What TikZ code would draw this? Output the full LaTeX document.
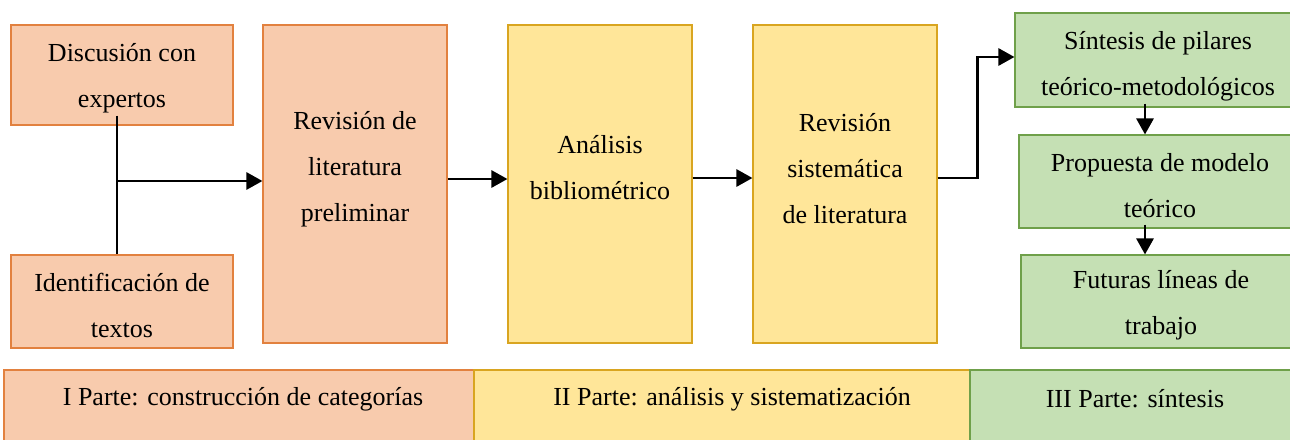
\documentclass[tikz,border=0pt]{standalone}
\usepackage{fontspec}
\setmainfont{Liberation Serif}
\usetikzlibrary{arrows.meta,fit}
\definecolor{ofill}{HTML}{F8CBAD}
\definecolor{oline}{HTML}{E2813F}
\definecolor{yfill}{HTML}{FFE699}
\definecolor{yline}{HTML}{D9A520}
\definecolor{gfill}{HTML}{C5E0B4}
\definecolor{gline}{HTML}{6FA04A}
\begin{document}
\begin{tikzpicture}[x=1pt,y=-1pt,
  box/.style={inner sep=0pt, line width=1.1pt},
  obox/.style={box, draw=oline, fill=ofill},
  ybox/.style={box, draw=yline, fill=yfill},
  gbox/.style={box, draw=gline, fill=gfill},
  txt/.style={font=\fontsize{26}{46}\selectfont, align=center, inner sep=0pt},
  con/.style={line width=2.8pt},
  arr/.style={con, -{Triangle[length=16pt,width=17pt]}}]
\clip (0,0) rectangle (1290,439);
% boxes
\node[obox, fit={(11,25)(233,125)}] (d) {};
\node[obox, fit={(11,255)(233,348)}] (i) {};
\node[obox, fit={(263,25)(447,343)}] (r1) {};
\node[ybox, fit={(508,25)(692,343)}] (a) {};
\node[ybox, fit={(753,25)(937,343)}] (rs) {};
\node[gbox, fit={(1015,13)(1300,107)}] (s) {};
\node[gbox, fit={(1019,135)(1300,228)}] (p) {};
\node[gbox, fit={(1021,255)(1300,348)}] (f) {};
\node[obox, fit={(4,370)(474,450)}] (b1) {};
\node[ybox, fit={(474,370)(970,450)}] (b2) {};
\node[gbox, fit={(970,370)(1300,450)}] (b3) {};
% texts
\node[txt] (td) at (122,78) {Discusión con\\expertos};
\node[txt] (ti) at (122,305) {Identificación de\\textos};
\node[txt] (tr1) at (355,169) {Revisión de\\literatura\\preliminar};
\node[txt] (ta) at (600,168) {Análisis\\bibliométrico};
\node[txt] (trs) at (845,169) {Revisión\\sistemática\\de literatura};
\node[txt] (ts) at (1158,66) {Síntesis de pilares\\teórico-metodológicos};
\node[txt] (tp) at (1160,186) {Propuesta de modelo\\teórico};
\node[txt] (tf) at (1161,305) {Futuras líneas de\\trabajo};
\node[txt] (tb1) at (243,399) {I Parte: construcción de categorías};
\node[txt] (tb2) at (732,399) {II Parte: análisis y sistematización};
\node[txt] (tb3) at (1135,399) {III Parte: síntesis};
% connectors
\coordinate (j) at (117,181);
\coordinate (ax) at (1145,0);
\draw[con] ([xshift=-5pt,yshift=10pt]d.south) -- ([xshift=-5pt]i.north);
\draw[arr] (j) -- (j -| r1.west);
\draw[arr] ([yshift=5pt]r1.east) -- ([yshift=5pt]a.west);
\draw[arr] ([yshift=6pt]a.east) -- ([yshift=6pt]rs.west);
\draw[arr] ([yshift=6pt]rs.east) -- ++(40,0) |- ([yshift=3pt]s.west);
\draw[arr, shorten <=-4pt] (s.south -| ax) -- (p.north -| ax);
\draw[arr, shorten <=-4pt] (p.south -| ax) -- (f.north -| ax);
\end{tikzpicture}
\end{document}
